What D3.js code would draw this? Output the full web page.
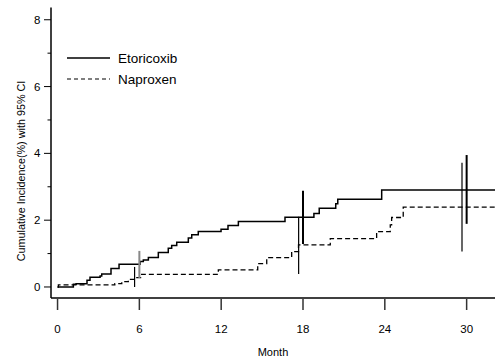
<!DOCTYPE html>
<html>
<head>
<meta charset="utf-8">
<script src="https://cdn.jsdelivr.net/npm/d3@7"></script>
<style>
  body { margin: 0; background: #fff; }
  svg { display: block; font-family: "Liberation Sans", Arial, sans-serif; }
</style>
</head>
<body>
<div id="chart"></div>
<script>
// Kaplan-Meier style cumulative incidence (step after each time)
const etoMonths = [0, 1.16, 1.36, 2.16, 2.38, 3.12, 3.24, 3.92, 4.51, 6.05, 6.29, 6.66, 7.39, 8.12, 8.37, 8.74, 9.59, 9.84, 10.32, 11.99, 12.5, 13.26, 16.68, 18.8, 19.19, 20.4, 20.55, 23.77, 32.1];
const etoValues = [0, 0.08, 0.1, 0.2, 0.29, 0.33, 0.39, 0.55, 0.68, 0.76, 0.81, 0.88, 1.03, 1.16, 1.24, 1.34, 1.47, 1.56, 1.66, 1.73, 1.84, 1.96, 2.09, 2.2, 2.36, 2.49, 2.63, 2.9, 2.9];

const napMonths = [0, 0.06, 4.2, 4.71, 5.19, 5.68, 6.17, 11.79, 14.68, 15.34, 17.17, 17.67, 20.0, 23.4, 24.4, 24.5, 25.35, 32.1];
const napValues = [0, 0.06, 0.1, 0.16, 0.23, 0.28, 0.38, 0.51, 0.7, 0.88, 1.06, 1.26, 1.45, 1.66, 1.86, 2.08, 2.39, 2.39];

// 95% CI bars
const etoCIMonths = [6, 18, 30];
const etoCILow = [0.27, 1.29, 1.89];
const etoCIHigh = [1.08, 2.88, 3.95];
const napCIMonths = [5.65, 17.68, 29.66];
const napCILow = [0.0, 0.39, 1.06];
const napCIHigh = [0.6, 2.1, 3.72];

const xTicks = [0, 6, 12, 18, 24, 30];
const yTicks = [0, 2, 4, 6, 8];
const yMinorTicks = [1, 3, 5, 7];
const seriesNames = ["Etoricoxib", "Naproxen"];

const width = 495, height = 360;
const x = d3.scaleLinear([-0.48, 32.08], [51, 495]);
const y = d3.scaleLinear([-0.33, 8.37], [298, 7.4]);

const svg = d3.select("#chart").append("svg")
  .attr("width", width)
  .attr("height", height)
  .attr("viewBox", `0 0 ${width} ${height}`);

// axes lines
svg.append("line")
  .attr("x1", x.range()[0]).attr("x2", x.range()[0])
  .attr("y1", y.range()[1]).attr("y2", y.range()[0])
  .attr("stroke", "#000").attr("stroke-width", 1.5);
svg.append("line")
  .attr("x1", x.range()[0]).attr("x2", x.range()[1])
  .attr("y1", y.range()[0]).attr("y2", y.range()[0])
  .attr("stroke", "#000").attr("stroke-width", 1.5);

// y ticks
svg.selectAll(".ytick").data(yTicks).enter().append("line")
  .attr("x1", 44).attr("x2", 51)
  .attr("y1", d => y(d)).attr("y2", d => y(d))
  .attr("stroke", "#000").attr("stroke-width", 1);
svg.selectAll(".yminor").data(yMinorTicks).enter().append("line")
  .attr("x1", 47.5).attr("x2", 51)
  .attr("y1", d => y(d)).attr("y2", d => y(d))
  .attr("stroke", "#000").attr("stroke-width", 1);
svg.selectAll(".ylab").data(yTicks).enter().append("text")
  .attr("x", 40.5).attr("y", d => y(d) + 4)
  .attr("text-anchor", "end")
  .attr("font-size", 11.5)
  .text(d => d);

// x ticks
svg.selectAll(".xtick").data(xTicks).enter().append("line")
  .attr("x1", d => x(d)).attr("x2", d => x(d))
  .attr("y1", 299).attr("y2", 310)
  .attr("stroke", "#333").attr("stroke-width", 1.5);
svg.selectAll(".xlab").data(xTicks).enter().append("text")
  .attr("x", d => x(d)).attr("y", 333)
  .attr("text-anchor", "middle")
  .attr("font-size", 11.5)
  .text(d => d);

svg.append("text")
  .attr("x", 273).attr("y", 356)
  .attr("text-anchor", "middle")
  .attr("font-size", 11)
  .text("Month");

svg.append("text")
  .attr("transform", "translate(25,171) rotate(-90)")
  .attr("text-anchor", "middle")
  .attr("font-size", 10.8)
  .text("Cumulative Incidence(%) with 95% CI");

// step curves
const line = d3.line()
  .x(d => x(d[0]))
  .y(d => y(d[1]))
  .curve(d3.curveStepAfter);

svg.append("path")
  .datum(etoMonths.map((m, i) => [m, etoValues[i]]))
  .attr("d", line)
  .attr("fill", "none")
  .attr("stroke", "#000")
  .attr("stroke-width", 1.5);

svg.append("path")
  .datum(napMonths.map((m, i) => [m, napValues[i]]))
  .attr("d", line)
  .attr("fill", "none")
  .attr("stroke", "#000")
  .attr("stroke-width", 1.3)
  .attr("stroke-dasharray", "5,3");

// CI bars
svg.selectAll(".etoci").data(etoCIMonths).enter().append("line")
  .attr("x1", d => x(d)).attr("x2", d => x(d))
  .attr("y1", (d, i) => y(etoCILow[i])).attr("y2", (d, i) => y(etoCIHigh[i]))
  .attr("stroke", (d, i) => i == 0 ? "#888" : "#000")
  .attr("stroke-width", 2);
svg.selectAll(".napci").data(napCIMonths).enter().append("line")
  .attr("x1", d => x(d)).attr("x2", d => x(d))
  .attr("y1", (d, i) => y(napCILow[i])).attr("y2", (d, i) => y(napCIHigh[i]))
  .attr("stroke", "#000")
  .attr("stroke-width", 1.2);

// legend
const legend = svg.append("g");
seriesNames.forEach((name, i) => {
  const ly = 58 + i * 21;
  legend.append("line")
    .attr("x1", 67).attr("x2", 110)
    .attr("y1", ly).attr("y2", ly)
    .attr("stroke", "#000")
    .attr("stroke-width", i == 0 ? 1.5 : 1.2)
    .attr("stroke-dasharray", i == 0 ? null : "4,3");
  legend.append("text")
    .attr("x", 118).attr("y", ly + 5)
    .attr("font-size", 13.5)
    .text(name);
});
</script>
</body>
</html>
